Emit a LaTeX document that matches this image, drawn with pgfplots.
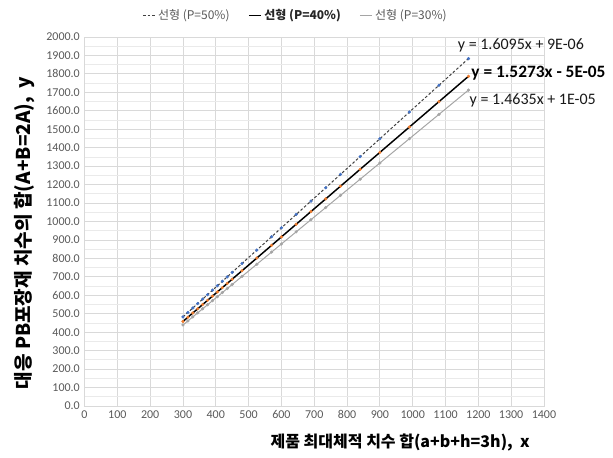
\documentclass[border=0pt]{standalone}
\usepackage{fontspec}
\setmainfont{Carlito}
\newfontfamily\kr{Noto Sans CJK KR}
\usepackage{pgfplots}
\pgfplotsset{compat=1.18}
\definecolor{txtgray}{HTML}{595959}
\definecolor{gridmaj}{HTML}{D9D9D9}
\definecolor{gridmin}{HTML}{EAEAEA}
\definecolor{sblue}{HTML}{4472C4}
\definecolor{sorange}{HTML}{ED7D31}
\definecolor{sgray}{HTML}{A5A5A5}
\definecolor{tdark}{HTML}{404040}
\begin{document}
\begin{tikzpicture}
\useasboundingbox (0,0) rectangle (459.75pt,342.75pt);
\begin{axis}[
  at={(63.375pt,38.25pt)}, anchor=south west,
  scale only axis, width=344.6pt, height=276.75pt,
  xmin=0, xmax=1400, ymin=0, ymax=2000,
  xtick distance=100, ytick distance=100,
  minor y tick num=1,
  grid=both,
  major grid style={gridmaj, line width=0.6pt},
  minor grid style={gridmin, line width=0.6pt},
  axis line style={gridmaj},
  tick style={draw=none},
  clip=false,
  /pgf/number format/assume math mode=true,
  /pgf/number format/1000 sep={},
  yticklabel={\pgfmathprintnumber[fixed,fixed zerofill,precision=1]{\tick}},
  ticklabel style={font=\fontsize{9}{11}\selectfont, text=txtgray},
  xlabel={\kr\bfseries 제품 최대체적 치수 합(a+b+h=3h),\ \ x},
  ylabel={\kr\bfseries 대응 PB포장재 치수의 합(A+B=2A),\ \ y},
  xlabel style={at={(axis description cs:0.687,-0.1)}, anchor=center, font=\fontsize{12}{14}\selectfont},
  ylabel style={at={(axis description cs:-0.1295,0.469)}, anchor=center, font=\fontsize{14.3}{16}\selectfont},
  legend columns=3,
  legend style={draw=none, fill=none, at={(0.46,1.058)}, anchor=center,
    font=\kr\fontsize{9}{11}\selectfont, text=txtgray,
    /tikz/every even column/.append style={column sep=12pt}},
  legend image code/.code={\draw[#1] (0pt,0pt) -- (9pt,0pt);},
]
% trendlines
\addplot[tdark, line width=0.75pt, dash pattern=on 2pt off 1.5pt] coordinates {(300,482.85) (1170,1883.12)};
\addlegendentry{선형 (P=50\%)}
\addplot[black, line width=1.1pt] coordinates {(300,458.19) (1170,1786.94)};
\addlegendentry{\bfseries\color{black!85}선형 (P=40\%)}
\addplot[sgray, line width=0.75pt] coordinates {(300,439.05) (1170,1712.30)};
\addlegendentry{선형 (P=30\%)}
% data markers
\addplot[only marks, mark=*, mark size=1pt, sblue, forget plot] coordinates {
(300,482.85) (315,506.99) (330,531.14) (345,555.28) (360,579.42) (375,603.56)
(390,627.71) (405,651.85) (420,675.99) (435,700.13) (450,724.28) (480,772.56)
(525,844.99) (570,917.42) (600,965.70) (645,1038.13) (690,1110.56) (735,1182.98)
(780,1255.41) (840,1351.98) (900,1448.55) (990,1593.41) (1080,1738.26) (1170,1883.12)};
\addplot[only marks, mark=*, mark size=1pt, sorange, forget plot] coordinates {
(300,458.19) (315,481.10) (330,504.01) (345,526.92) (360,549.83) (375,572.74)
(390,595.65) (405,618.56) (420,641.47) (435,664.38) (450,687.29) (480,733.10)
(525,801.83) (570,870.56) (600,916.38) (645,985.11) (690,1053.84) (735,1122.57)
(780,1191.29) (840,1282.93) (900,1374.57) (990,1512.03) (1080,1649.48) (1170,1786.94)};
\addplot[only marks, mark=*, mark size=1pt, sgray, forget plot] coordinates {
(300,439.05) (315,461.00) (330,482.96) (345,504.91) (360,526.86) (375,548.81)
(390,570.77) (405,592.72) (420,614.67) (435,636.62) (450,658.58) (480,702.48)
(525,768.34) (570,834.20) (600,878.10) (645,943.96) (690,1009.82) (735,1075.67)
(780,1141.53) (840,1229.34) (900,1317.15) (990,1448.87) (1080,1580.58) (1170,1712.30)};
% trendline equations
\node[anchor=west, inner sep=0pt, font=\fontsize{12}{14}\selectfont, text=black!90] at (axis cs:1137,1957) {y = 1.6095x + 9E-06};
\node[anchor=west, inner sep=0pt, font=\bfseries\fontsize{13}{15}\selectfont, text=black] at (axis cs:1178,1805) {y = 1.5273x - 5E-05};
\node[anchor=west, inner sep=0pt, font=\fontsize{12}{14}\selectfont, text=black!90] at (axis cs:1173,1655) {y = 1.4635x + 1E-05};
\end{axis}
\end{tikzpicture}
\end{document}
